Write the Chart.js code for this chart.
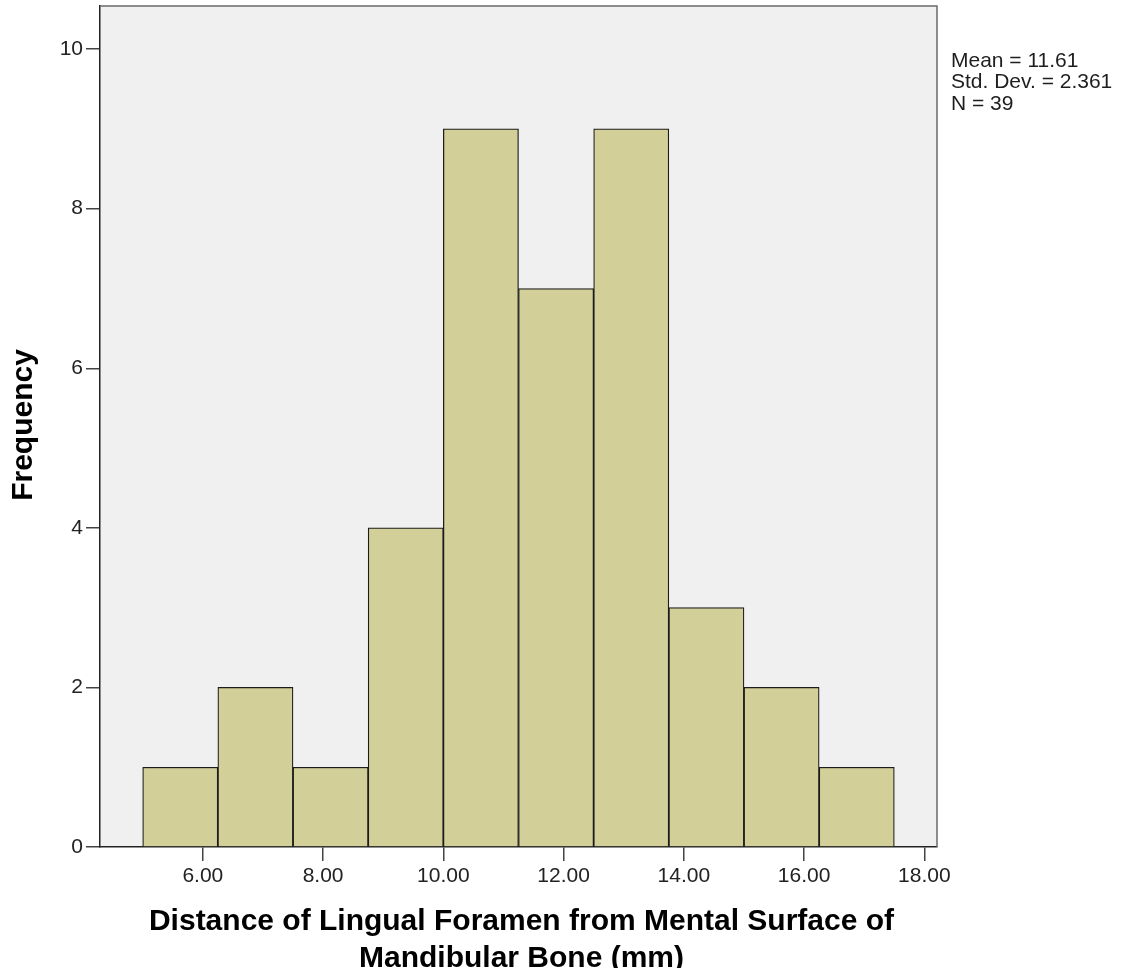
<!DOCTYPE html>
<html>
<head>
<meta charset="utf-8">
<title>Histogram</title>
<script src="https://cdn.jsdelivr.net/npm/chart.js@4.4.1/dist/chart.umd.min.js"></script>
<style>
  html, body { margin: 0; padding: 0; background: #ffffff; }
  #wrap { width: 1128px; height: 968px; }
</style>
</head>
<body>
<div id="wrap"><canvas id="hist" width="1128" height="968"></canvas></div>
<script>
// bins are 1.25 mm wide, first one starts at 5.00
var binCenters = [5.625, 6.875, 8.125, 9.375, 10.625, 11.875, 13.125, 14.375, 15.625, 16.875];
var frequencies = [1, 2, 1, 4, 9, 7, 9, 3, 2, 1];
var xTickValues = [6, 8, 10, 12, 14, 16, 18];
var yTickValues = [0, 2, 4, 6, 8, 10];
var statLines = ["Mean = 11.61", "Std. Dev. = 2.361", "N = 39"];
var xTitleLines = ["Distance of Lingual Foramen from Mental Surface of", "Mandibular Bone (mm)"];
var yTitle = "Frequency";

var fontFamily = '"Liberation Sans", Arial, sans-serif';

var points = [];
for (var i = 0; i < binCenters.length; i++) {
  points.push({x: binCenters[i], y: frequencies[i]});
}

// plot background, frame, axis titles and the stats box (SPSS look)
var spssDecor = {
  id: 'spssDecor',
  beforeDraw: function(chart) {
    var a = chart.chartArea, ctx = chart.ctx;
    ctx.save();
    ctx.fillStyle = '#ffffff';
    ctx.fillRect(0, 0, chart.width, chart.height);
    ctx.fillStyle = '#f0f0f0';
    ctx.fillRect(a.left, a.top, a.right - a.left, a.bottom - a.top);
    ctx.restore();
  },
  afterDraw: function(chart) {
    var a = chart.chartArea, ctx = chart.ctx;
    ctx.save();
    ctx.strokeStyle = '#6a6a6a';
    ctx.lineWidth = 1.5;
    ctx.beginPath();
    ctx.moveTo(a.left, a.top);
    ctx.lineTo(a.right, a.top);
    ctx.lineTo(a.right, a.bottom);
    ctx.stroke();

    ctx.fillStyle = '#1e1e1e';
    ctx.font = '21px ' + fontFamily;
    ctx.textAlign = 'left';
    ctx.textBaseline = 'alphabetic';
    for (var i = 0; i < statLines.length; i++) {
      ctx.fillText(statLines[i], a.right + 14, a.top + 60.7 + i * 21.65);
    }

    ctx.fillStyle = '#000000';
    ctx.font = 'bold 30px ' + fontFamily;
    ctx.textAlign = 'center';
    ctx.textBaseline = 'middle';
    var cx = (a.left + a.right) / 2 + 3;
    for (i = 0; i < xTitleLines.length; i++) {
      ctx.fillText(xTitleLines[i], cx, a.bottom + 74.5 + i * 37);
    }
    ctx.translate(24, (a.top + a.bottom) / 2 - 1.5);
    ctx.rotate(-Math.PI / 2);
    ctx.fillText(yTitle, 0, 0);
    ctx.restore();
  }
};

new Chart(document.getElementById('hist'), {
  type: 'bar',
  data: {
    datasets: [{
      data: points,
      backgroundColor: '#d3cf99',
      borderColor: '#1c1c1c',
      borderWidth: 1.25,
      barPercentage: 1.0,
      categoryPercentage: 1.0
    }]
  },
  options: {
    responsive: false,
    animation: false,
    layout: { padding: { top: 6, right: 191, left: 0, bottom: 0 } },
    plugins: {
      legend: { display: false },
      tooltip: { enabled: false }
    },
    scales: {
      x: {
        type: 'linear',
        min: 4.29,
        max: 18.21,
        offset: false,
        afterFit: function(s) { s.height = 121; },
        afterBuildTicks: function(s) {
          s.ticks = xTickValues.map(function(v) { return {value: v}; });
        },
        grid: { display: true, offset: false, drawOnChartArea: false, drawTicks: true, tickLength: 14, color: '#444444', lineWidth: 1.5 },
        border: { display: true, color: '#222222', width: 1.5 },
        ticks: {
          padding: 3,
          maxRotation: 0,
          color: '#222222',
          font: { family: fontFamily, size: 21 },
          callback: function(v) { return Number(v).toFixed(2); }
        }
      },
      y: {
        type: 'linear',
        min: 0,
        max: 10.54,
        afterFit: function(s) { s.width = 100; },
        afterBuildTicks: function(s) {
          s.ticks = yTickValues.map(function(v) { return {value: v}; });
        },
        grid: { display: true, drawOnChartArea: false, drawTicks: true, tickLength: 14, color: '#444444', lineWidth: 1.5 },
        border: { display: true, color: '#222222', width: 1.5 },
        ticks: {
          padding: 3,
          color: '#222222',
          // small lineHeight keeps the top label from pushing the plot area down
          font: { family: fontFamily, size: 21, lineHeight: 0.2 },
          callback: function(v) { return String(v); }
        }
      }
    }
  },
  plugins: [spssDecor]
});
</script>
</body>
</html>
